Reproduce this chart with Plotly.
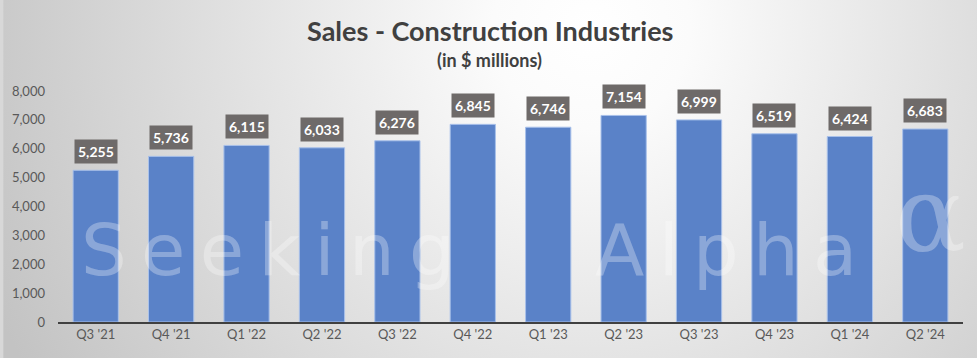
import base64
import plotly.graph_objects as go

quarters = ["Q3 '21", "Q4 '21", "Q1 '22", "Q2 '22", "Q3 '22", "Q4 '22",
            "Q1 '23", "Q2 '23", "Q3 '23", "Q4 '23", "Q1 '24", "Q2 '24"]
sales = [5255, 5736, 6115, 6033, 6276, 6845, 6746, 7154, 6999, 6519, 6424, 6683]
y_ticks = [0, 1000, 2000, 3000, 4000, 5000, 6000, 7000, 8000]

W, H = 977, 358
ML, MR, MT, MB = 55, 14, 91, 36
PW, PH = W - ML - MR, H - MT - MB

def px(x):
    return (x - ML) / PW

def py(y):
    return (H - MB - y) / PH

FONT = "Lato"

svg = f'''<svg xmlns="http://www.w3.org/2000/svg" width="{W}" height="{H}" viewBox="0 0 {W} {H}">
<defs><radialGradient id="g" gradientUnits="userSpaceOnUse" cx="590" cy="30" r="660">
<stop offset="0" stop-color="#ffffff"/><stop offset="0.15" stop-color="#fbfbfb"/>
<stop offset="1" stop-color="#c3c3c3"/></radialGradient></defs>
<rect width="{W}" height="{H}" fill="url(#g)"/></svg>'''
bg_src = "data:image/svg+xml;base64," + base64.b64encode(svg.encode()).decode()

fig = go.Figure()
fig.add_trace(go.Bar(
    x=quarters, y=sales,
    marker=dict(color="#5a82c8", line=dict(color="#a9c1ea", width=1)),
    hoverinfo="x+y",
))

annotations = []
for q, v in zip(quarters, sales):
    annotations.append(dict(
        x=q, y=v, xref="x", yref="y", text=f"<b>{v:,}</b>", showarrow=False,
        yanchor="bottom", yshift=6, bgcolor="#6e6a69", borderpad=3,
        font=dict(family=FONT, size=14, color="white"),
    ))

wm_color = "rgba(255,255,255,0.3)"
wm_font = dict(family="DejaVu Sans", size=72, color=wm_color)
gap = "\u2009"
annotations += [
    dict(x=px(76), y=py(250), xref="paper", yref="paper", xanchor="left", yanchor="middle",
         text=gap.join("Seeking"), showarrow=False, font=wm_font),
    dict(x=px(592), y=py(250), xref="paper", yref="paper", xanchor="left", yanchor="middle",
         text=gap.join("Alpha"), showarrow=False, font=wm_font),
    dict(x=px(893), y=py(215), xref="paper", yref="paper", xanchor="left", yanchor="middle",
         text="α", showarrow=False,
         font=dict(family="DejaVu Serif", size=105, color=wm_color)),
    dict(x=px(488), y=py(31), xref="paper", yref="paper", xanchor="center", yanchor="middle",
         text="<b>Sales - Construction Industries</b>", showarrow=False,
         font=dict(family=FONT, size=27, color="#404040")),
    dict(x=px(488), y=py(60), xref="paper", yref="paper", xanchor="center", yanchor="middle",
         text="<b>(in $ millions)</b>", showarrow=False,
         font=dict(family=FONT, size=18, color="#404040")),
]

fig.update_layout(
    width=W, height=H,
    margin=dict(l=ML, r=MR, t=MT, b=MB, pad=0),
    paper_bgcolor="#d8d8d8",
    plot_bgcolor="rgba(0,0,0,0)",
    showlegend=False,
    bargap=0.4,
    annotations=annotations,
    images=[dict(source=bg_src, xref="paper", yref="paper",
                 x=px(0), y=py(0), sizex=W / PW, sizey=H / PH,
                 xanchor="left", yanchor="top", sizing="stretch", layer="below")],
    xaxis=dict(
        showgrid=False, showline=True, linecolor="#404040", linewidth=1.5,
        tickfont=dict(family=FONT, size=13, color="#595959"),
        ticks="", fixedrange=True,
    ),
    yaxis=dict(
        range=[0, 8000], tickvals=y_ticks, tickformat=",d",
        showgrid=False, zeroline=False, showline=False,
        tickfont=dict(family=FONT, size=13, color="#595959"),
        ticks="", ticklabelstandoff=12, fixedrange=True,
    ),
)

fig.write_html("out.html", config={"displayModeBar": False},
               post_script="document.body.style.margin='0';")
